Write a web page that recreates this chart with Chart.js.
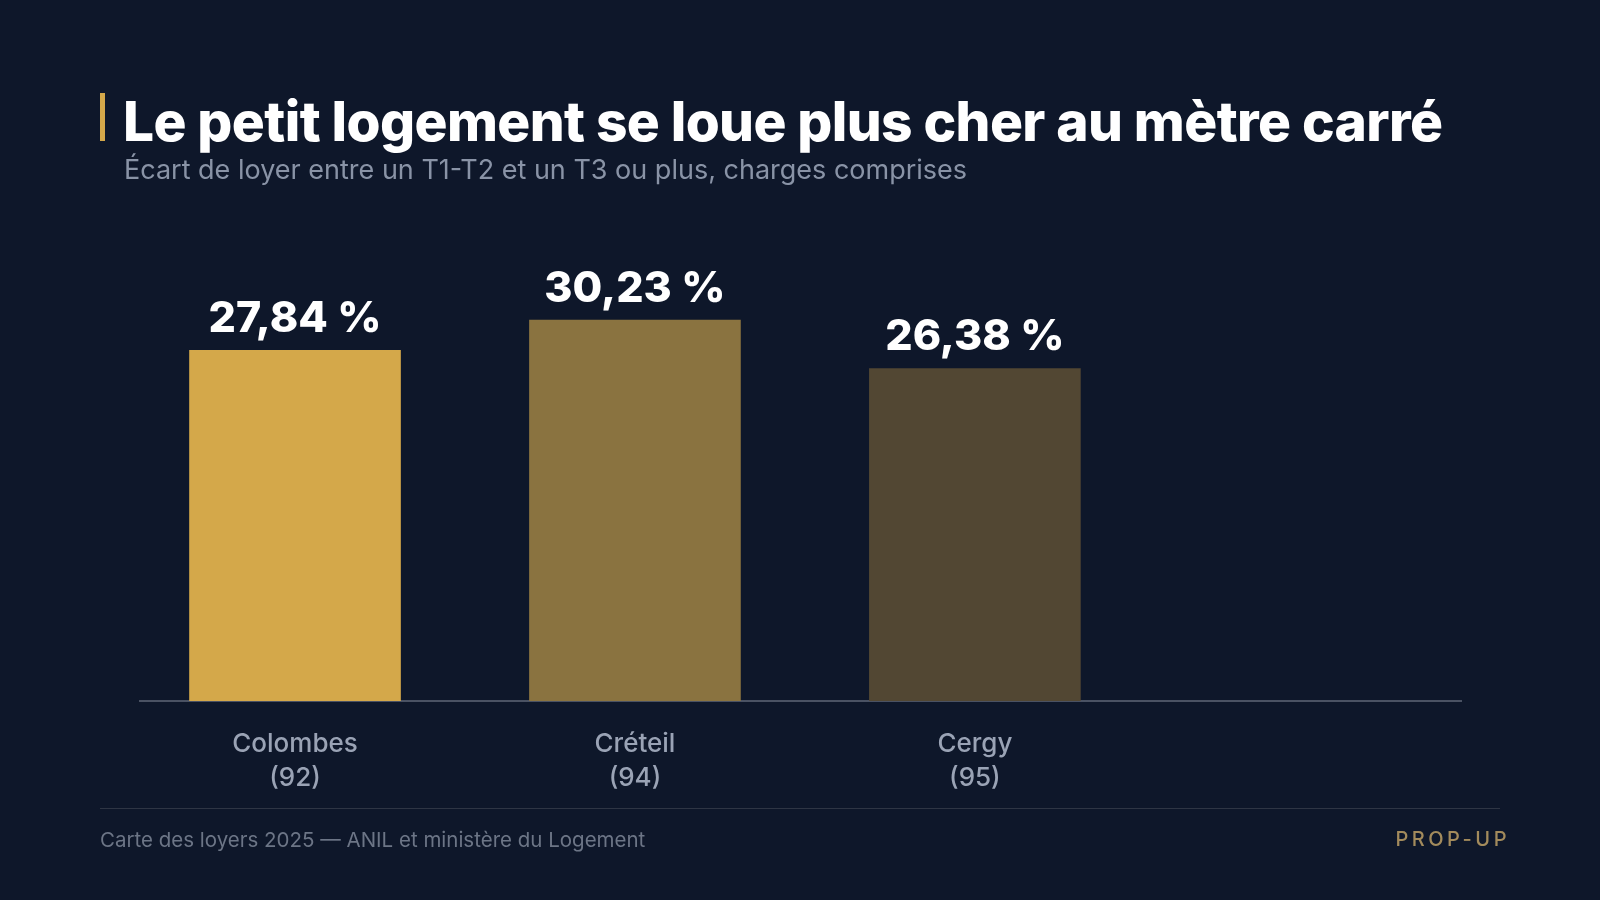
<!DOCTYPE html>
<html lang="fr">
<head>
<meta charset="utf-8">
<script src="https://cdn.jsdelivr.net/npm/chart.js@4/dist/chart.umd.min.js"></script>
<style>
  html, body { margin: 0; width: 1600px; height: 900px; background: #0e172a; overflow: hidden; font-family: 'Inter', 'Noto Sans', sans-serif; }
  #wrap { position: relative; width: 1600px; height: 900px; }
  canvas { position: absolute; left: 0; top: 0; }
  .accent { position: absolute; left: 100px; top: 93px; width: 5px; height: 48px; background: #d4a84a; }
  h1 { position: absolute; left: 123px; top: 88px; margin: 0; font-size: 55px; font-weight: 800; color: #fff; letter-spacing: -0.6px; white-space: nowrap; }
  .sub { position: absolute; left: 124px; top: 153px; font-size: 27px; color: #8993a6; white-space: nowrap; }
  .rule { position: absolute; left: 100px; top: 808px; width: 1400px; height: 1px; background: #2e3544; }
  .src { position: absolute; left: 100px; top: 827px; font-size: 20.5px; color: #6c7586; }
  .brand { position: absolute; right: 90px; top: 827px; font-size: 20px; color: #a38b5c; letter-spacing: 3.5px; font-weight: 500; }
</style>
</head>
<body>
<div id="wrap">
  <canvas id="chart" width="1600" height="900"></canvas>
  <div class="accent"></div>
  <h1>Le petit logement se loue plus cher au mètre carré</h1>
  <div class="sub">Écart de loyer entre un T1-T2 et un T3 ou plus, charges comprises</div>
  <div class="rule"></div>
  <div class="src">Carte des loyers 2025 — ANIL et ministère du Logement</div>
  <div class="brand">PROP-UP</div>
</div>
<script>
const CITIES = [['Colombes', '(92)'], ['Créteil', '(94)'], ['Cergy', '(95)']];
const VALUES = [27.84, 30.23, 26.38];
const BAR_COLORS = ['#d4a84a', '#8a7340', '#524733'];

const valueLabels = {
    id: 'valueLabels',
    afterDatasetsDraw(chart) {
        const ctx = chart.ctx;
        const meta = chart.getDatasetMeta(0);
        ctx.save();
        ctx.fillStyle = '#ffffff';
        ctx.font = "800 43px 'Inter', sans-serif";
        ctx.textAlign = 'center';
        ctx.textBaseline = 'bottom';
        meta.data.forEach((bar, i) => {
            ctx.fillText(VALUES[i].toFixed(2).replace('.', ',') + ' %', bar.x, bar.y - 10);
        });
        ctx.restore();
    },
};

new Chart(document.getElementById('chart'), {
    type: 'bar',
    data: {
        datasets: [{
            data: VALUES.map((v, i) => ({ x: i, y: v })),
            backgroundColor: BAR_COLORS,
            barThickness: 211,
        }],
    },
    options: {
        responsive: false,
        animation: false,
        layout: { padding: { left: 140, right: 139, top: 260, bottom: 99 } },
        plugins: { legend: { display: false }, tooltip: { enabled: false } },
        scales: {
            x: {
                type: 'linear',
                min: -0.456,
                max: 3.43,
                offset: false,
                grid: { display: false, drawTicks: false },
                border: { color: '#4a5263', width: 2 },
                afterFit: s => { s.height = 100; },
                afterBuildTicks: s => { s.ticks = CITIES.map((_, i) => ({ value: i })); },
                ticks: {
                    color: '#9aa3b5',
                    font: { size: 26, family: "'Inter', sans-serif", weight: 500, lineHeight: 1.3 },
                    padding: 26,
                    maxRotation: 0,
                    callback: v => CITIES[v] || '',
                },
            },
            y: { display: false, min: 0, max: 35 },
        },
    },
    plugins: [valueLabels],
});
</script>
</body>
</html>
